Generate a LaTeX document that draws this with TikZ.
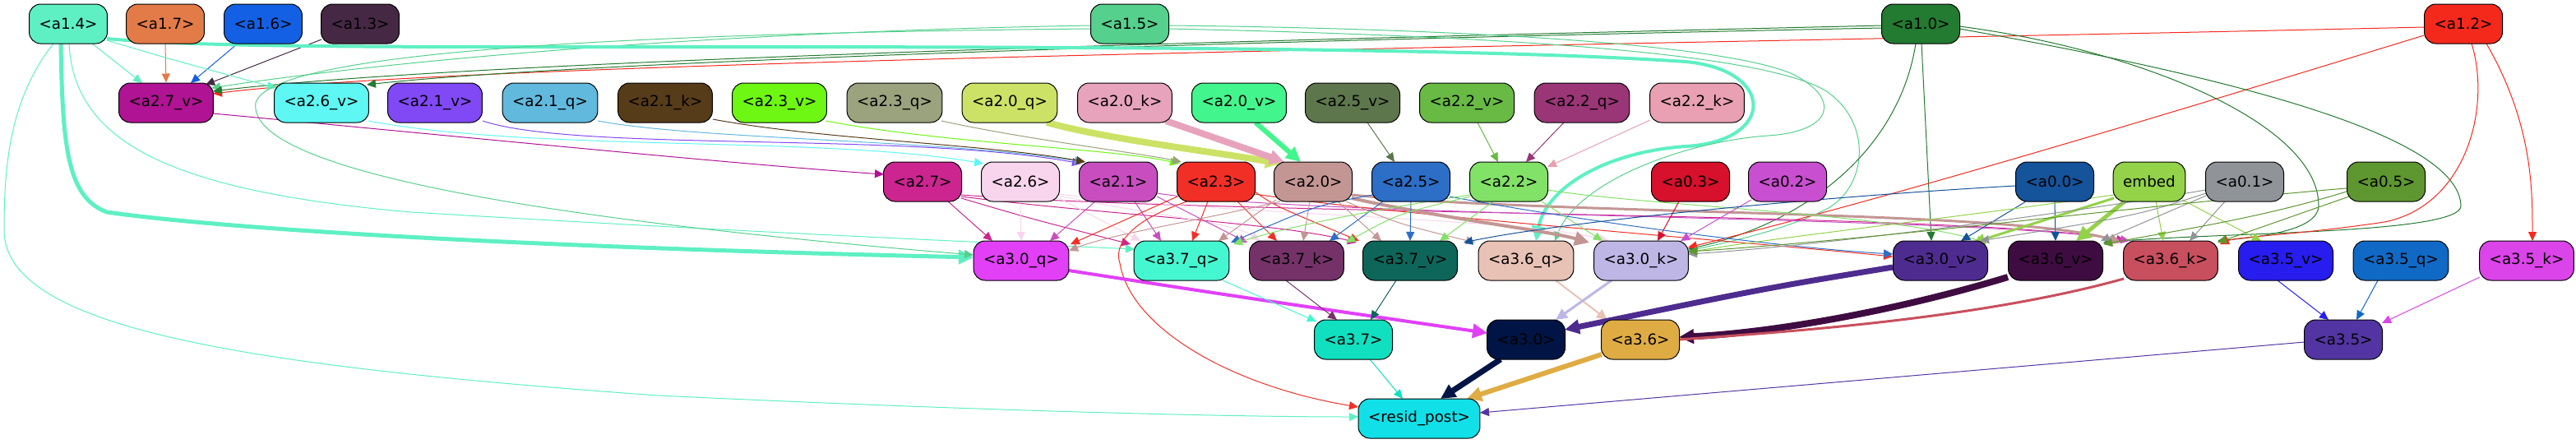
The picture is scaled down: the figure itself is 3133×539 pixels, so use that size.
\documentclass[tikz,border=0pt]{standalone}
\usepackage{fontspec}
\setmainfont{DejaVu Sans}
\usetikzlibrary{arrows.meta,calc}
\pgfdeclarelayer{bg}
\pgfsetlayers{bg,main}
\definecolor{c14}{HTML}{5EF0C3}\definecolor{c17}{HTML}{E37B48}\definecolor{c16}{HTML}{1460E4}
\definecolor{c13}{HTML}{452944}\definecolor{c15}{HTML}{55D08D}\definecolor{c10}{HTML}{237A31}
\definecolor{c12}{HTML}{F5281C}
\definecolor{c27v}{HTML}{B01393}\definecolor{c26v}{HTML}{5EF7F4}\definecolor{c21v}{HTML}{8049F5}
\definecolor{c21q}{HTML}{61B9DD}\definecolor{c21k}{HTML}{573C19}\definecolor{c23v}{HTML}{6DF712}
\definecolor{c23q}{HTML}{9AA27E}\definecolor{c20q}{HTML}{CCE266}\definecolor{c20k}{HTML}{E8A3BC}
\definecolor{c20v}{HTML}{43F58D}\definecolor{c25v}{HTML}{5D764C}\definecolor{c22v}{HTML}{68BA44}
\definecolor{c22q}{HTML}{9A3576}\definecolor{c22k}{HTML}{E8A0B2}
\definecolor{c27}{HTML}{CC2590}\definecolor{c26}{HTML}{F8D5EC}\definecolor{c21}{HTML}{C84EC0}
\definecolor{c23}{HTML}{F22F26}\definecolor{c20}{HTML}{C39694}\definecolor{c25}{HTML}{2D6EC6}
\definecolor{c22}{HTML}{82E167}\definecolor{c03}{HTML}{D7102B}\definecolor{c02}{HTML}{C84FCF}
\definecolor{c00}{HTML}{15539A}\definecolor{cemb}{HTML}{93D249}\definecolor{c01}{HTML}{909498}
\definecolor{c05}{HTML}{5E962F}
\definecolor{c30q}{HTML}{E140F7}\definecolor{c37q}{HTML}{45F7D1}\definecolor{c37k}{HTML}{753269}
\definecolor{c37v}{HTML}{0E665A}\definecolor{c36q}{HTML}{E8C2B5}\definecolor{c30k}{HTML}{BEB7E6}
\definecolor{c30v}{HTML}{4E2C8F}\definecolor{c36v}{HTML}{3F0C41}\definecolor{c36k}{HTML}{C84F5E}
\definecolor{c35v}{HTML}{271DEE}\definecolor{c35q}{HTML}{1169C6}\definecolor{c35k}{HTML}{DB44E9}
\definecolor{c37}{HTML}{10E0C0}\definecolor{c30}{HTML}{001545}\definecolor{c36}{HTML}{DFAC44}
\definecolor{c35}{HTML}{5235A2}\definecolor{cres}{HTML}{12E0E8}
\tikzset{
  nd/.style={draw=black, line width=1pt, rounded corners=14pt, minimum height=48pt,
    inner xsep=12pt, inner ysep=0pt, text=black, font=\fontsize{18.3pt}{22pt}\selectfont},
  edg/.style={line width=1pt, -{Triangle[length=11pt,width=10pt]}},
  thk/.style={-{Triangle[length=18pt,width=17pt]}},
}
\begin{document}
\begin{tikzpicture}[x=1pt,y=-1pt]
\useasboundingbox (0,0) rectangle (3133,539);
% row 1
\node[nd,fill=c14] (a14) at (83,29) {<a1.4>};
\node[nd,fill=c17] (a17) at (201,29) {<a1.7>};
\node[nd,fill=c16] (a16) at (320,29) {<a1.6>};
\node[nd,fill=c13] (a13) at (438,29) {<a1.3>};
\node[nd,fill=c15] (a15) at (1374,29) {<a1.5>};
\node[nd,fill=c10] (a10) at (2336,29) {<a1.0>};
\node[nd,fill=c12] (a12) at (2996,29) {<a1.2>};
% row 2
\node[nd,fill=c27v] (a27v) at (202,125) {<a2.7\_v>};
\node[nd,fill=c26v] (a26v) at (391,125) {<a2.6\_v>};
\node[nd,fill=c21v] (a21v) at (529,125) {<a2.1\_v>};
\node[nd,fill=c21q] (a21q) at (669,125) {<a2.1\_q>};
\node[nd,fill=c21k] (a21k) at (809,125) {<a2.1\_k>};
\node[nd,fill=c23v] (a23v) at (948,125) {<a2.3\_v>};
\node[nd,fill=c23q] (a23q) at (1088,125) {<a2.3\_q>};
\node[nd,fill=c20q] (a20q) at (1228,125) {<a2.0\_q>};
\node[nd,fill=c20k] (a20k) at (1368,125) {<a2.0\_k>};
\node[nd,fill=c20v] (a20v) at (1507,125) {<a2.0\_v>};
\node[nd,fill=c25v] (a25v) at (1645,125) {<a2.5\_v>};
\node[nd,fill=c22v] (a22v) at (1784,125) {<a2.2\_v>};
\node[nd,fill=c22q] (a22q) at (1924,125) {<a2.2\_q>};
\node[nd,fill=c22k] (a22k) at (2064,125) {<a2.2\_k>};
% row 3
\node[nd,fill=c27] (a27) at (1122,221) {<a2.7>};
\node[nd,fill=c26] (a26) at (1241,221) {<a2.6>};
\node[nd,fill=c21] (a21) at (1360,221) {<a2.1>};
\node[nd,fill=c23] (a23) at (1479,221) {<a2.3>};
\node[nd,fill=c20] (a20) at (1597,221) {<a2.0>};
\node[nd,fill=c25] (a25) at (1716,221) {<a2.5>};
\node[nd,fill=c22] (a22) at (1835,221) {<a2.2>};
\node[nd,fill=c03] (a03) at (2056,221) {<a0.3>};
\node[nd,fill=c02] (a02) at (2174,221) {<a0.2>};
\node[nd,fill=c00] (a00) at (2499,221) {<a0.0>};
\node[nd,fill=cemb] (emb) at (2614,221) {embed};
\node[nd,fill=c01] (a01) at (2730,221) {<a0.1>};
\node[nd,fill=c05] (a05) at (2902,221) {<a0.5>};
% row 4
\node[nd,fill=c30q] (a30q) at (1242,317) {<a3.0\_q>};
\node[nd,fill=c37q] (a37q) at (1437,317) {<a3.7\_q>};
\node[nd,fill=c37k] (a37k) at (1577,317) {<a3.7\_k>};
\node[nd,fill=c37v] (a37v) at (1715,317) {<a3.7\_v>};
\node[nd,fill=c36q] (a36q) at (1856,317) {<a3.6\_q>};
\node[nd,fill=c30k] (a30k) at (1996,317) {<a3.0\_k>};
\node[nd,fill=c30v] (a30v) at (2360,317) {<a3.0\_v>};
\node[nd,fill=c36v] (a36v) at (2500,317) {<a3.6\_v>};
\node[nd,fill=c36k] (a36k) at (2640,317) {<a3.6\_k>};
\node[nd,fill=c35v] (a35v) at (2780,317) {<a3.5\_v>};
\node[nd,fill=c35q] (a35q) at (2920,317) {<a3.5\_q>};
\node[nd,fill=c35k] (a35k) at (3073,317) {<a3.5\_k>};
% row 5
\node[nd,fill=c37] (a37) at (1646,413) {<a3.7>};
\node[nd,fill=c30] (a30) at (1856,413) {<a3.0>};
\node[nd,fill=c36] (a36) at (1995,413) {<a3.6>};
\node[nd,fill=c35] (a35) at (2850,413) {<a3.5>};
% row 6
\node[nd,fill=cres] (resid) at (1726,509) {<resid\_post>};

\begin{pgfonlayer}{bg}
% row1 -> row2
\draw[edg,c14] ($(a14)+(29,24)$) -- ($(a27v)+(-29,-24)$);
\draw[edg,c17] (a17.south) -- (a27v.north);
\draw[edg,c16] ($(a16)+(-31,24)$) -- ($(a27v)+(30,-24)$);
\draw[edg,c13] ($(a13)+(-47,19)$) -- ($(a27v)+(48,-22)$);
\draw[edg,c15] ($(a15)+(-47,2)$) .. controls (900,38) and (500,70) .. ($(a27v)+(55,-18)$);
\draw[edg,c12] ($(a12)+(-48,4)$) .. controls (2000,55) and (600,72) .. ($(a27v)+(57,-11)$);
\draw[edg,c10] ($(a10)+(-47,2)$) .. controls (1700,45) and (600,70) .. ($(a27v)+(57,-14)$);
\draw[edg,c14] ($(a14)+(47,20)$) .. controls (200,70) .. ($(a26v)+(-55,-18)$);
\draw[edg,c10] ($(a10)+(-47,5)$) .. controls (1500,50) and (700,75) .. ($(a26v)+(55,-22)$);
% long edges from row 1
\draw[c14,line width=4pt,thk] ($(a14)+(47,18)$) .. controls (250,58) and (500,57) .. (800,57)
  .. controls (1300,57) and (1800,58) .. (2050,75) .. controls (2160,85) and (2160,172) .. (2050,178)
  .. controls (1950,185) and (1880,230) .. ($(a36q)+(12,-24)$);
\draw[c14,line width=5pt,thk] ($(a14)+(-9,24)$) .. controls (76,180) and (82,240) .. (130,258)
  .. controls (300,282) and (700,302) .. ($(a30q)+(-58,-4)$);
\draw[edg,c14] ($(a14)+(-18,24)$) .. controls (12,120) and (5,200) .. (5,280)
  .. controls (5,400) and (300,445) .. (800,481) .. controls (1200,500) and (1500,507) .. ($(resid)+(-74,-2)$);
\draw[edg,c14] ($(a14)+(1,24)$) .. controls (90,170) and (200,232) .. (500,258)
  .. controls (900,282) and (1200,295) .. ($(a37q)+(-57,-14)$);
\draw[edg,c15] ($(a15)+(-47,6)$) .. controls (800,40) and (330,60) .. (311,125)
  .. controls (300,200) and (600,262) .. ($(a30q)+(-58,-7)$);
\draw[edg,c15] ($(a15)+(47,2)$) .. controls (1800,35) and (2100,55) .. (2180,90)
  .. controls (2240,120) and (2230,160) .. (2150,165) .. controls (2050,172) and (1920,220) .. ($(a36q)+(35,-24)$);
\draw[edg,c15] ($(a15)+(47,6)$) .. controls (1900,45) and (2150,70) .. (2220,110)
  .. controls (2280,150) and (2270,230) .. (2220,255) .. controls (2170,280) and (2100,295) .. ($(a30k)+(57,-12)$);
\draw[edg,c10] ($(a10)+(1,24)$) -- ($(a30v)+(-11,-24)$);
\draw[edg,c10] ($(a10)+(-6,24)$) .. controls (2310,180) and (2200,270) .. ($(a30k)+(57,-14)$);
\draw[edg,c12] ($(a12)+(-48,14)$) .. controls (2600,150) and (2300,240) .. ($(a30k)+(57,-16)$);
\draw[edg,c10] ($(a10)+(47,3)$) .. controls (2600,60) and (2820,150) .. (2820,250)
  .. controls (2820,280) and (2750,288) .. ($(a36k)+(57,-24)$);
\draw[edg,c10] ($(a10)+(47,6)$) .. controls (2750,100) and (2990,170) .. (2993,250)
  .. controls (2995,285) and (2700,282) .. ($(a36v)+(58,-22)$);
\draw[edg,c12] ($(a12)+(10,24)$) .. controls (3030,130) and (3000,250) .. (2900,270)
  .. controls (2800,285) and (2720,288) .. ($(a36k)+(60,-20)$);
\draw[edg,c12] ($(a12)+(28,24)$) .. controls (3080,150) and (3080,230) .. ($(a35k)+(7,-24)$);
% row2 -> row3
\draw[edg,c27v] ($(a27v)+(57,13)$) .. controls (600,170) and (900,200) .. ($(a27)+(-47,-9)$);
\draw[edg,c26v] ($(a26v)+(57,22)$) .. controls (650,185) and (1000,165) .. ($(a26)+(-45,-22)$);
\draw[edg,c21v] ($(a21v)+(58,22)$) .. controls (700,185) and (1100,160) .. ($(a21)+(-45,-22)$);
\draw[edg,c21q] ($(a21q)+(58,22)$) .. controls (850,170) and (1150,170) .. ($(a21)+(-42,-24)$);
\draw[edg,c21k] ($(a21k)+(58,20)$) .. controls (1000,170) and (1200,175) .. ($(a21)+(-40,-24)$);
\draw[edg,c23v] ($(a23v)+(56,22)$) .. controls (1150,175) and (1350,180) .. ($(a23)+(-45,-22)$);
\draw[edg,c23q] ($(a23q)+(57,22)$) .. controls (1250,170) and (1380,185) .. ($(a23)+(-42,-24)$);
\draw[c20q,line width=8pt,thk] ($(a20q)+(45,24)$) .. controls (1350,170) and (1480,185) .. ($(a20)+(-40,-22)$);
\draw[c20k,line width=8pt,thk] ($(a20k)+(50,22)$) -- ($(a20)+(-35,-24)$);
\draw[c20v,line width=6pt,thk] ($(a20v)+(20,24)$) -- ($(a20)+(-15,-24)$);
\draw[edg,c25v] ($(a25v)+(18,24)$) -- ($(a25)+(-20,-24)$);
\draw[edg,c22v] ($(a22v)+(13,24)$) -- ($(a22)+(-13,-24)$);
\draw[edg,c22q] ($(a22q)+(-22,24)$) -- ($(a22)+(21,-24)$);
\draw[edg,c22k] ($(a22k)+(-57,21)$) -- ($(a22)+(47,-18)$);
% row3 -> row4
\draw[edg,c27] ($(a27)+(31,24)$) -- ($(a30q)+(-35,-24)$);
\draw[edg,c27] ($(a27)+(47,20)$) .. controls (1250,265) .. ($(a37q)+(-62,-20)$);
\draw[edg,c27] ($(a27)+(47,18)$) .. controls (1350,262) and (1550,270) .. ($(a37v)+(-65,-22)$);
\draw[edg,c27] ($(a27)+(47,16)$) .. controls (1500,262) and (2400,258) .. ($(a36k)+(-55,-24)$);
\draw[edg,c26] ($(a26)+(0,24)$) -- ($(a30q)+(0,-24)$);
\draw[edg,c26] ($(a26)+(47,20)$) -- ($(a37q)+(-50,-24)$);
\draw[edg,c26] ($(a26)+(47,17)$) .. controls (1400,262) and (1500,270) .. ($(a37k)+(-45,-24)$);
\draw[edg,c26] ($(a26)+(47,15)$) .. controls (1500,262) and (1850,265) .. ($(a30k)+(-40,-24)$);
\draw[edg,c21] ($(a21)+(-28,24)$) -- ($(a30q)+(35,-24)$);
\draw[edg,c21] ($(a21)+(20,24)$) -- ($(a37q)+(-25,-24)$);
\draw[edg,c21] ($(a21)+(47,18)$) -- ($(a37k)+(-60,-22)$);
\draw[edg,c21] ($(a21)+(47,14)$) .. controls (1600,265) and (2400,262) .. ($(a36k)+(-50,-24)$);
\draw[edg,c23] ($(a23)+(-47,18)$) -- ($(a30q)+(60,-20)$);
\draw[edg,c23] ($(a23)+(-10,24)$) -- ($(a37q)+(13,-24)$);
\draw[edg,c23] ($(a23)+(26,24)$) -- ($(a37k)+(-24,-24)$);
\draw[edg,c23] ($(a23)+(47,12)$) .. controls (1550,250) .. ($(a37v)+(-62,-24)$);
\draw[edg,c23] ($(a23)+(47,15)$) .. controls (1700,262) and (2100,292) .. ($(a30v)+(-58,-5)$);
\draw[edg,c23] ($(a23)+(-35,24)$) .. controls (1370,270) and (1355,300) .. (1362,320)
  .. controls (1375,400) and (1500,470) .. ($(resid)+(-74,-14)$);
\draw[edg,c20] ($(a20)+(-40,24)$) .. controls (1450,270) and (1350,285) .. ($(a30q)+(58,-12)$);
\draw[edg,c20] ($(a20)+(-45,22)$) -- ($(a37q)+(45,-24)$);
\draw[edg,c20] ($(a20)+(-4,24)$) -- ($(a37k)+(8,-24)$);
\draw[edg,c20] ($(a20)+(30,24)$) -- ($(a37v)+(-35,-24)$);
\draw[edg,c20] ($(a20)+(40,24)$) .. controls (1700,272) .. ($(a36q)+(-62,-22)$);
\draw[c20,line width=4pt,thk] ($(a20)+(47,20)$) .. controls (1750,265) and (1880,280) .. ($(a30k)+(-63,-22)$);
\draw[c20,line width=3pt,-{Triangle[length=14pt,width=13pt]}] ($(a20)+(47,16)$) .. controls (1900,262) and (2450,255) .. ($(a36k)+(-60,-22)$);
\draw[edg,c25] ($(a25)+(-34,24)$) -- ($(a37k)+(40,-24)$);
\draw[edg,c25] ($(a25)+(0,24)$) -- ($(a37v)+(0,-24)$);
\draw[edg,c25] ($(a25)+(47,18)$) .. controls (1900,265) and (2150,300) .. ($(a30v)+(-58,-8)$);
\draw[edg,c25] ($(a25)+(-47,16)$) .. controls (1600,250) .. ($(a37q)+(60,-22)$);
\draw[edg,c22] ($(a22)+(-19,24)$) -- ($(a37v)+(36,-24)$);
\draw[edg,c22] ($(a22)+(-47,18)$) .. controls (1700,260) .. ($(a37k)+(60,-22)$);
\draw[edg,c22] ($(a22)+(40,24)$) -- ($(a30k)+(-47,-24)$);
\draw[edg,c22] ($(a22)+(-47,16)$) .. controls (1650,258) and (1550,280) .. ($(a37q)+(63,-20)$);
\draw[edg,c22] ($(a22)+(47,10)$) .. controls (2000,250) and (2300,260) .. ($(a30v)+(55,-22)$);
\draw[edg,c03] ($(a03)+(-14,24)$) -- ($(a30k)+(20,-24)$);
\draw[edg,c02] ($(a02)+(-44,22)$) -- ($(a30k)+(48,-24)$);
\draw[edg,c00] ($(a00)+(-48,5)$) .. controls (2200,240) and (1900,270) .. ($(a37v)+(65,-22)$);
\draw[edg,c00] ($(a00)+(-35,24)$) -- ($(a30v)+(25,-24)$);
\draw[edg,c00] ($(a00)+(0,24)$) -- ($(a36v)+(0,-24)$);
\draw[cemb,line width=3pt,-{Triangle[length=14pt,width=13pt]}] ($(emb)+(-43,20)$) -- ($(a30v)+(40,-22)$);
\draw[cemb,line width=5pt,thk] ($(emb)+(-30,24)$) -- ($(a36v)+(25,-24)$);
\draw[edg,cemb] ($(emb)+(8,24)$) -- ($(a36k)+(-9,-24)$);
\draw[edg,cemb] ($(emb)+(40,22)$) -- ($(a35v)+(-30,-24)$);
\draw[edg,cemb] ($(emb)+(-43,16)$) .. controls (2400,262) and (2150,290) .. ($(a30k)+(57,-10)$);
\draw[edg,c01] ($(a01)+(-47,10)$) .. controls (2500,262) and (2200,300) .. ($(a30k)+(57,-8)$);
\draw[edg,c01] ($(a01)+(-47,14)$) .. controls (2600,262) .. ($(a30v)+(48,-24)$);
\draw[edg,c01] ($(a01)+(-47,17)$) -- ($(a36v)+(55,-24)$);
\draw[edg,c01] ($(a01)+(-24,24)$) -- ($(a36k)+(23,-24)$);
\draw[edg,c05] ($(a05)+(-48,8)$) .. controls (2600,250) and (2300,290) .. ($(a30k)+(57,-11)$);
\draw[edg,c05] ($(a05)+(-48,12)$) .. controls (2750,265) and (2650,280) .. ($(a36v)+(58,-20)$);
\draw[edg,c05] ($(a05)+(-45,18)$) -- ($(a36k)+(57,-22)$);
% row4 -> row5
\draw[c30q,line width=4pt,thk] ($(a30q)+(58,12)$) .. controls (1500,360) .. ($(a30)+(-47,-8)$);
\draw[edg,c37q] ($(a37q)+(50,24)$) -- ($(a37)+(-45,-22)$);
\draw[edg,c37k] ($(a37k)+(-13,24)$) -- ($(a37)+(-20,-24)$);
\draw[edg,c37v] ($(a37v)+(-17,24)$) -- ($(a37)+(21,-24)$);
\draw[c36q,line width=2pt,-{Triangle[length=13pt,width=12pt]}] ($(a36q)+(36,24)$) -- ($(a36)+(-40,-24)$);
\draw[c30k,line width=3pt,-{Triangle[length=14pt,width=13pt]}] ($(a30k)+(-36,24)$) -- ($(a30)+(36,-24)$);
\draw[c30v,line width=7pt,thk] ($(a30v)+(-58,8)$) .. controls (2150,350) .. ($(a30)+(47,-12)$);
\draw[c36v,line width=8pt,thk] ($(a36v)+(-58,20)$) .. controls (2300,380) and (2150,405) .. ($(a36)+(47,-3)$);
\draw[c36k,line width=3pt] ($(a36k)+(-57,22)$) .. controls (2400,390) and (2150,405) .. ($(a36)+(47,0)$);
\draw[edg,c35v] ($(a35v)+(-10,24)$) -- ($(a35)+(-18,-24)$);
\draw[edg,c35q] ($(a35q)+(-28,24)$) -- ($(a35)+(16,-24)$);
\draw[edg,c35k] ($(a35k)+(-57,20)$) -- ($(a35)+(47,-20)$);
% row5 -> row6
\draw[edg,c37] ($(a37)+(20,24)$) -- ($(resid)+(-20,-24)$);
\draw[c30,line width=7pt,thk] ($(a30)+(-31,24)$) -- ($(resid)+(26,-24)$);
\draw[c36,line width=6pt,thk] ($(a36)+(-47,18)$) -- ($(resid)+(58,-24)$);
\draw[edg,c35] ($(a35)+(-47,3)$) -- ($(resid)+(74,-7)$);
\end{pgfonlayer}
\end{tikzpicture}
\end{document}
